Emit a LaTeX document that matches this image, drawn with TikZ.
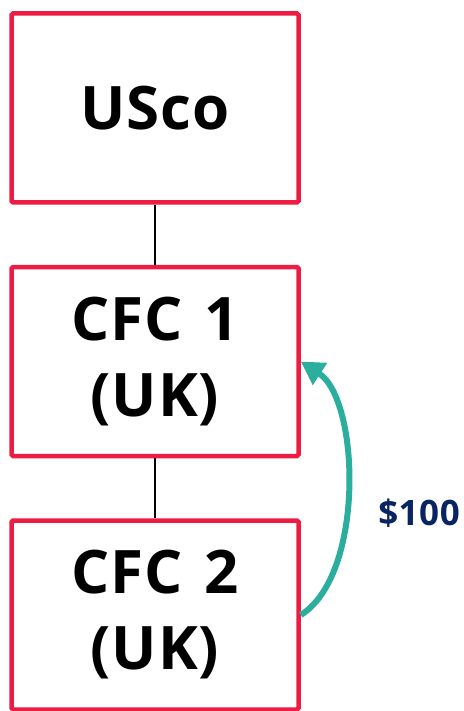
\documentclass[tikz,border=0pt]{standalone}
\usepackage{fontspec}
\setmainfont[WordSpace=1.3, LetterSpace=1.5]{Open Sans}
\usetikzlibrary{arrows.meta}
\definecolor{boxred}{RGB}{236,28,66}
\definecolor{flowteal}{RGB}{43,174,158}
\definecolor{navy}{RGB}{10,36,99}
\tikzset{
  entity/.style={draw=boxred, line width=4.5pt, rounded corners=1.5pt,
    minimum width=287pt, minimum height=189pt, inner sep=0pt,
    align=center, font=\fontsize{60}{76}\selectfont\bfseries},
  link/.style={line width=1.5pt, black},
  flow/.style={line width=6pt, flowteal, -{Triangle[length=23pt,width=25pt]}},
}
\begin{document}
\begin{tikzpicture}[x=1pt,y=-1pt]
  \useasboundingbox (0,0) rectangle (463,711);
  \node[entity] (usco) at (155,108) {USco};
  \node[entity] (cfc1) at (155,361.5) {CFC 1\\(UK)};
  \node[entity] (cfc2) at (155,615) {CFC 2\\(UK)};
  \draw[link] (usco.south) -- (cfc1.north);
  \draw[link] (cfc1.south) -- (cfc2.north);
  \draw[flow] (cfc2.east) .. controls (365,575) and (360,400) .. (cfc1.east);
  \node[font=\fontsize{35}{40}\selectfont\bfseries, text=navy] (amt) at (419,513) {\$100};
\end{tikzpicture}
\end{document}
